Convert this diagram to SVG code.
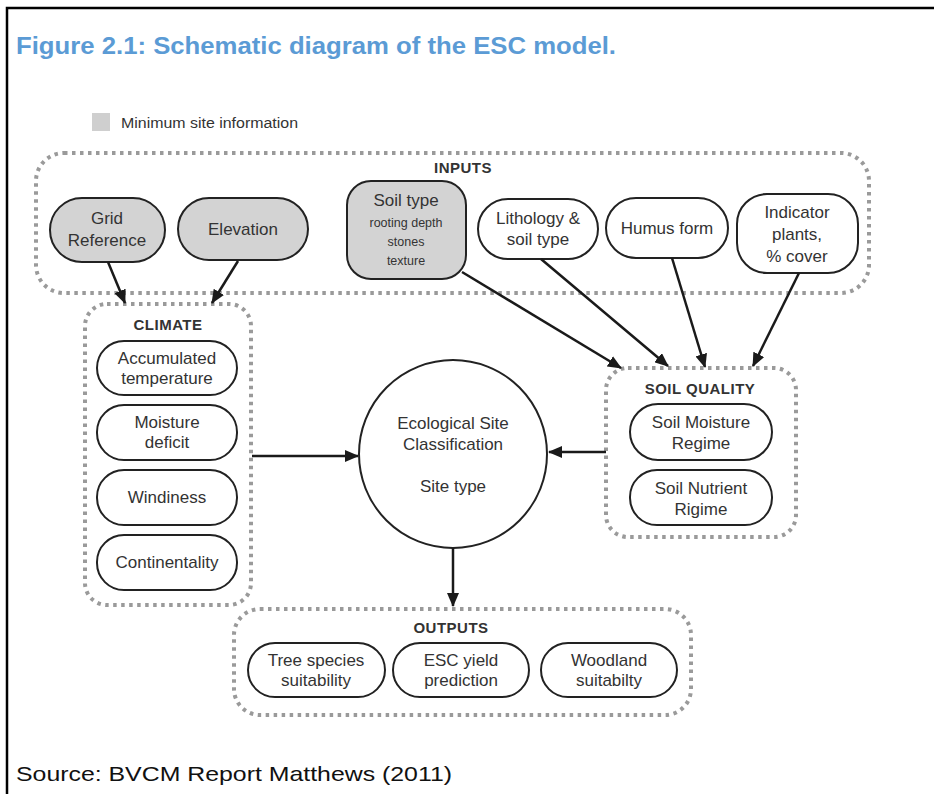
<svg xmlns="http://www.w3.org/2000/svg" width="934" height="794" viewBox="0 0 934 794">
<defs>
<style>
.frame{fill:none;stroke:#000;stroke-width:2.5}
.grp{fill:none;stroke:#9a9a9a;stroke-width:4;stroke-dasharray:3.5 4.5}
.node{fill:#fff;stroke:#222;stroke-width:2}
.min{fill:#d3d3d3;stroke:#222;stroke-width:2}
.t{font-family:"Liberation Sans",Arial,sans-serif;font-size:17px;fill:#333;text-anchor:middle}
.s{font-family:"Liberation Sans",Arial,sans-serif;font-size:12.5px;fill:#333;text-anchor:middle}
.h{font-family:"Liberation Sans",Arial,sans-serif;font-size:15px;font-weight:bold;fill:#333;text-anchor:middle;letter-spacing:0.5px}
.edge{fill:none;stroke:#1a1a1a;stroke-width:2.5}
</style>
<marker id="ah" viewBox="0 0 14 12" refX="13" refY="6" markerWidth="14" markerHeight="12" markerUnits="userSpaceOnUse" orient="auto">
<path d="M0,0 L14,6 L0,12 Z" fill="#1a1a1a"/>
</marker>
</defs>
<rect width="934" height="794" fill="#fff"/>
<path class="frame" d="M7,794 L7,8 L934,8"/>
<text x="16" y="54" font-family="'Liberation Sans',Arial,sans-serif" font-size="24" font-weight="bold" fill="#5b9bd5" textLength="600" lengthAdjust="spacingAndGlyphs">Figure 2.1: Schematic diagram of the ESC model.</text>

<g id="legend">
<rect x="92" y="113" width="18" height="18" fill="#cfcfcf"/>
<text x="121" y="128" font-family="'Liberation Sans',Arial,sans-serif" font-size="14" fill="#333" textLength="177" lengthAdjust="spacingAndGlyphs">Minimum site information</text>
</g>

<g id="inputs">
<rect class="grp" x="36" y="153" width="833" height="140" rx="28"/>
<text class="h" x="463" y="173">INPUTS</text>
</g>
<g id="grid-reference">
<rect class="min" x="50" y="198" width="115" height="64" rx="32"/>
<text class="t" x="107" y="224">Grid</text>
<text class="t" x="107" y="246">Reference</text>
</g>
<g id="elevation">
<rect class="min" x="178" y="198" width="130" height="62" rx="31"/>
<text class="t" x="243" y="235">Elevation</text>
</g>
<g id="soil-type">
<rect class="min" x="347" y="181" width="119" height="98" rx="24"/>
<text class="t" x="406" y="206">Soil type</text>
<text class="s" x="406" y="227">rooting depth</text>
<text class="s" x="406" y="246">stones</text>
<text class="s" x="406" y="265">texture</text>
</g>
<g id="lithology">
<rect class="node" x="478" y="199" width="120" height="60" rx="30"/>
<text class="t" x="538" y="224">Lithology &amp;</text>
<text class="t" x="538" y="245">soil type</text>
</g>
<g id="humus-form">
<rect class="node" x="606" y="198" width="122" height="60" rx="30"/>
<text class="t" x="667" y="234">Humus form</text>
</g>
<g id="indicator-plants">
<rect class="node" x="737" y="194" width="121" height="79" rx="30"/>
<text class="t" x="797" y="218">Indicator</text>
<text class="t" x="797" y="240">plants,</text>
<text class="t" x="797" y="262">% cover</text>
</g>

<g id="climate">
<rect class="grp" x="85" y="304" width="166" height="301" rx="22"/>
<text class="h" x="168" y="330">CLIMATE</text>
</g>
<g id="accumulated-temperature">
<rect class="node" x="97" y="341" width="140" height="54" rx="27"/>
<text class="t" x="167" y="364">Accumulated</text>
<text class="t" x="167" y="384">temperature</text>
</g>
<g id="moisture-deficit">
<rect class="node" x="97" y="405" width="140" height="55" rx="27"/>
<text class="t" x="167" y="428">Moisture</text>
<text class="t" x="167" y="448">deficit</text>
</g>
<g id="windiness">
<rect class="node" x="97" y="470" width="140" height="55" rx="27"/>
<text class="t" x="167" y="503">Windiness</text>
</g>
<g id="continentality">
<rect class="node" x="97" y="535" width="140" height="55" rx="27"/>
<text class="t" x="167" y="568">Continentality</text>
</g>

<g id="esc">
<circle class="node" cx="453" cy="454" r="94"/>
<text class="t" x="453" y="429">Ecological Site</text>
<text class="t" x="453" y="450">Classification</text>
<text class="t" x="453" y="492">Site type</text>
</g>

<g id="soil-quality">
<rect class="grp" x="606" y="368" width="190" height="169" rx="22"/>
<text class="h" x="700" y="394">SOIL QUALITY</text>
</g>
<g id="soil-moisture-regime">
<rect class="node" x="630" y="404" width="142" height="56" rx="28"/>
<text class="t" x="701" y="428">Soil Moisture</text>
<text class="t" x="701" y="449">Regime</text>
</g>
<g id="soil-nutrient-rigime">
<rect class="node" x="630" y="470" width="142" height="55" rx="27"/>
<text class="t" x="701" y="494">Soil Nutrient</text>
<text class="t" x="701" y="515">Rigime</text>
</g>

<g id="outputs">
<rect class="grp" x="234" y="609" width="457" height="106" rx="26"/>
<text class="h" x="451" y="633">OUTPUTS</text>
</g>
<g id="tree-species">
<rect class="node" x="248" y="643" width="137" height="54" rx="27"/>
<text class="t" x="316" y="666">Tree species</text>
<text class="t" x="316" y="686">suitability</text>
</g>
<g id="esc-yield">
<rect class="node" x="393" y="643" width="136" height="54" rx="27"/>
<text class="t" x="461" y="666">ESC yield</text>
<text class="t" x="461" y="686">prediction</text>
</g>
<g id="woodland">
<rect class="node" x="541" y="643" width="136" height="54" rx="27"/>
<text class="t" x="609" y="666">Woodland</text>
<text class="t" x="609" y="686">suitabilty</text>
</g>

<g id="connectors">
<line class="edge" x1="108" y1="262" x2="125" y2="303" marker-end="url(#ah)"/>
<line class="edge" x1="238" y1="261" x2="212" y2="303" marker-end="url(#ah)"/>
<line class="edge" x1="462" y1="272" x2="621" y2="368" marker-end="url(#ah)"/>
<line class="edge" x1="541" y1="259" x2="668" y2="366" marker-end="url(#ah)"/>
<line class="edge" x1="672" y1="258" x2="705" y2="367" marker-end="url(#ah)"/>
<line class="edge" x1="799" y1="273" x2="753" y2="366" marker-end="url(#ah)"/>
<line class="edge" x1="252" y1="456" x2="358" y2="456" marker-end="url(#ah)"/>
<line class="edge" x1="606" y1="452" x2="549" y2="452" marker-end="url(#ah)"/>
<line class="edge" x1="453" y1="548" x2="453" y2="606" marker-end="url(#ah)"/>
</g>

<text x="16" y="781" font-family="'Liberation Sans',Arial,sans-serif" font-size="21" fill="#111" textLength="436" lengthAdjust="spacingAndGlyphs">Source: BVCM Report Matthews (2011)</text>
</svg>
